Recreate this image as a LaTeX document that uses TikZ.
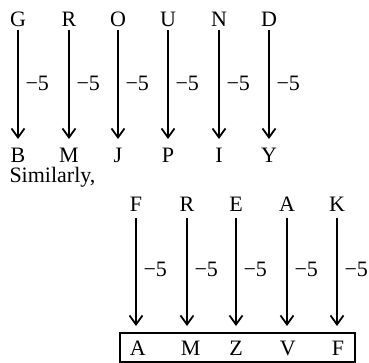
\documentclass[tikz,border=0pt]{standalone}
\usepackage{fontspec}
\setmainfont{Liberation Serif}
\usetikzlibrary{arrows.meta,calc}
\begin{document}
\begin{tikzpicture}[x=1pt,y=-1pt,
  every node/.style={font=\fontsize{22}{25}\selectfont, inner sep=0pt, outer sep=0pt},
  ltr/.style={anchor=base, text height=15pt, text depth=0pt},
  arr/.style={line width=2pt, -{Straight Barb[length=9pt,width=13pt,line width=1.8pt]}},
  arrone/.style={arr, shorten <=3.5pt, shorten >=9pt},
  arrtwo/.style={arr, shorten <=6pt, shorten >=7pt},
  lab/.style={anchor=base west}]
\useasboundingbox (0,0) rectangle (369,363);
% first group
\foreach \n/\t/\b/\x in {1/G/B/18, 2/R/M/69, 3/O/J/118, 4/U/P/168, 5/N/I/219, 6/D/Y/269}{
  \node[ltr] (t\n) at (\x,26.5) {\t};
  \node[ltr] (b\n) at (\x,163) {\b};
  \draw[arrone] (t\n.south) -- (b\n.north);
  \node[lab] (l\n) at ($(t\n.south)+(7.5,64)$) {\char"2212 5};
}
\node[anchor=base west] (sim) at (9.5,183) {Similarly,};
% second group
\node[draw, line width=1.4pt, minimum width=235pt, minimum height=29pt, anchor=north west] (box) at (120,333) {};
\foreach \n/\t/\b/\x/\y in {1/F/A/136/137.7, 2/R/M/187/190.7, 3/E/Z/236/236, 4/A/V/287/287.7, 5/K/F/337/338}{
  \node[ltr] (s\n) at (\x,211.7) {\t};
  \node[ltr] (c\n) at (\y,355) {\b};
  \draw[arrtwo] (s\n.south) -- (s\n.south |- box.north);
  \node[lab] (m\n) at ($(s\n.south)+(7.5,64.8)$) {\char"2212 5};
}
\end{tikzpicture}
\end{document}
